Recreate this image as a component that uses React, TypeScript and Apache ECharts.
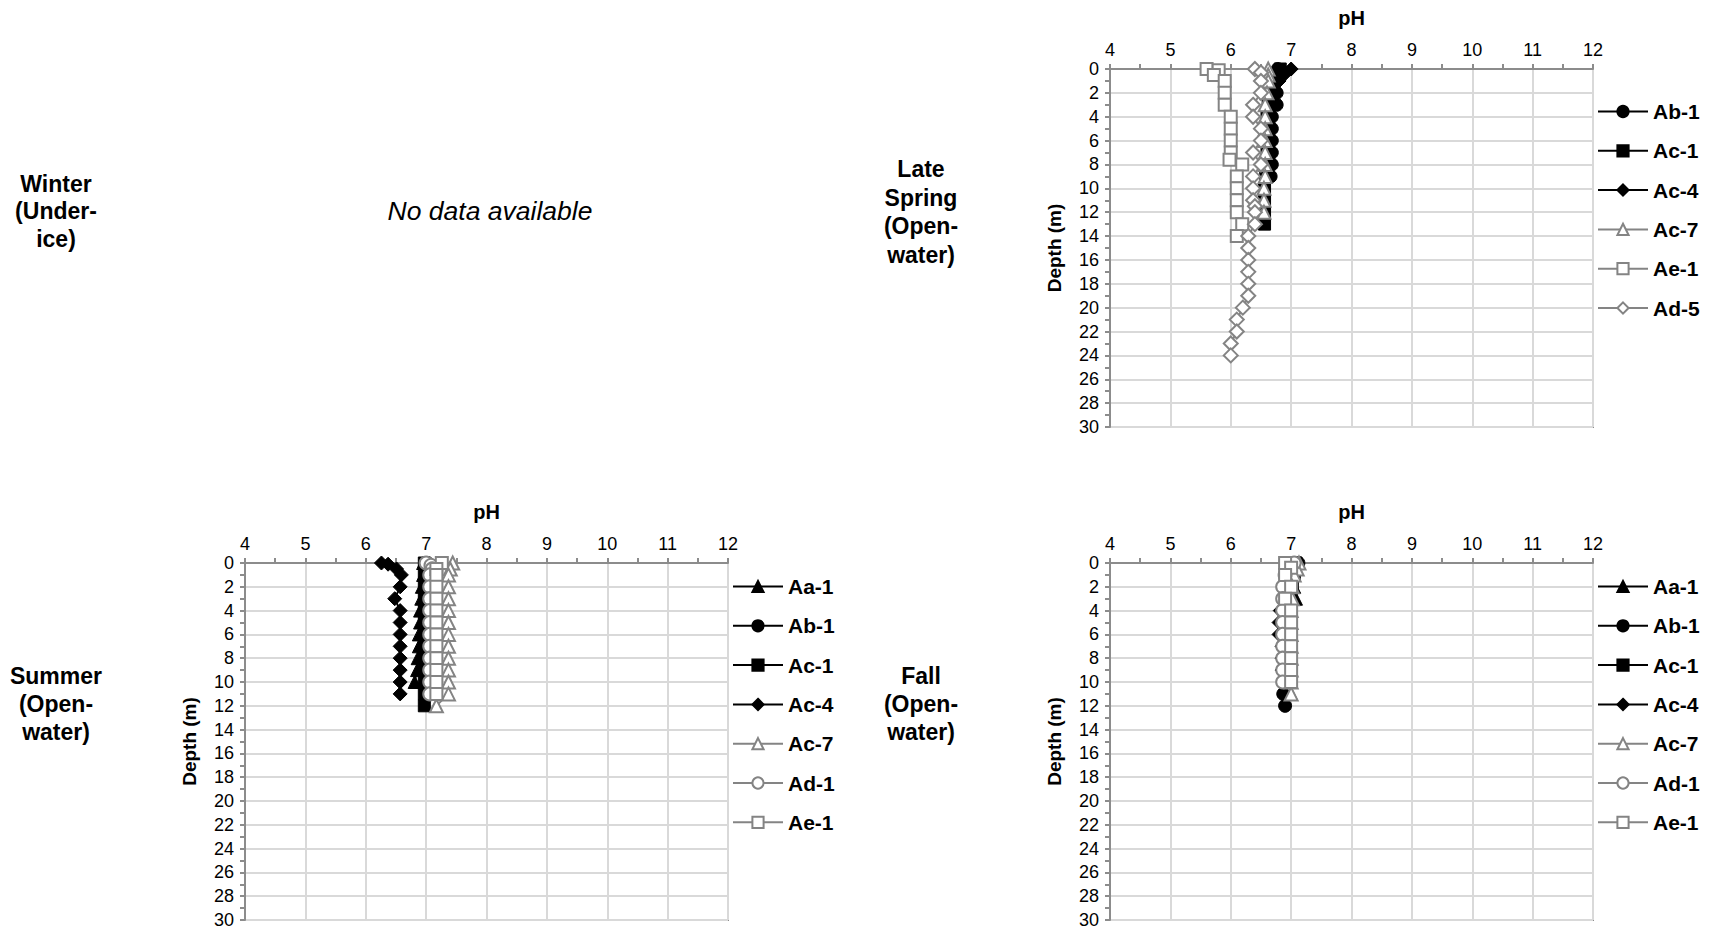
import React, { useEffect, useRef } from "react";
import * as echarts from "echarts";

// ---------- Data: [pH, depth (m)] ----------
// Late Spring (Open-water)
const lsAb1 = [[6.78, 0], [6.75, 1], [6.76, 2], [6.76, 3], [6.68, 4], [6.68, 5], [6.68, 6], [6.68, 7], [6.68, 8], [6.66, 9]];
const lsAc1 = [[6.82, 0], [6.76, 0.5], [6.72, 1], [6.65, 2], [6.62, 3], [6.6, 4], [6.6, 5], [6.6, 6], [6.6, 7], [6.6, 8], [6.58, 9], [6.56, 10], [6.56, 11], [6.56, 12], [6.56, 13]];
const lsAc4 = [[7.0, 0], [6.9, 0.4], [6.8, 1]];
const lsAc7 = [[6.62, 0], [6.62, 0.5], [6.62, 1], [6.6, 2], [6.57, 3], [6.57, 4], [6.57, 5], [6.57, 6], [6.57, 7], [6.57, 8], [6.57, 9], [6.55, 10], [6.55, 11], [6.55, 12]];
const lsAe1 = [[5.6, 0], [5.8, 0.1], [5.72, 0.5], [5.9, 1], [5.9, 2], [5.9, 3], [6.0, 4], [6.0, 5], [6.0, 6], [6.0, 7], [5.98, 7.6], [6.19, 8], [6.1, 9], [6.1, 10], [6.1, 11], [6.1, 12], [6.19, 13], [6.1, 14]];
const lsAd5 = [[6.4, 0], [6.5, 0.3], [6.5, 1], [6.5, 2], [6.37, 3], [6.37, 4], [6.5, 5], [6.5, 6], [6.37, 7], [6.5, 8], [6.37, 9], [6.37, 10], [6.37, 11], [6.4, 11.5], [6.4, 12], [6.4, 13], [6.29, 14], [6.29, 15], [6.29, 16], [6.29, 17], [6.29, 18], [6.29, 19], [6.2, 20], [6.1, 21], [6.1, 22], [6.0, 23], [6.0, 24]];

// Summer (Open-water)
const suAa1 = [[6.95, 0], [6.95, 1], [6.93, 2], [6.92, 3], [6.9, 4], [6.9, 5], [6.88, 6], [6.88, 7], [6.86, 8], [6.85, 9], [6.81, 10]];
const suAb1 = [[7.02, 0], [7.0, 1], [7.0, 2], [7.0, 3], [7.0, 4], [7.0, 5], [7.0, 6], [7.0, 7], [7.0, 8], [7.0, 9], [7.0, 10], [7.0, 11]];
const suAc1 = [[6.97, 0], [6.97, 1], [6.97, 2], [6.97, 3], [6.97, 4], [6.97, 5], [6.97, 6], [6.97, 7], [6.97, 8], [6.97, 9], [6.97, 10], [6.97, 11], [6.97, 12]];
const suAc4 = [[6.26, 0], [6.37, 0.1], [6.51, 0.5], [6.59, 1], [6.57, 2], [6.48, 3], [6.57, 4], [6.57, 5], [6.57, 6], [6.57, 7], [6.57, 8], [6.57, 9], [6.57, 10], [6.57, 11]];
const suAc7 = [[7.44, 0], [7.4, 0.5], [7.37, 1], [7.37, 2], [7.37, 3], [7.37, 4], [7.37, 5], [7.37, 6], [7.37, 7], [7.37, 8], [7.37, 9], [7.37, 10], [7.37, 11], [7.17, 12]];
const suAd1 = [[7.0, 0], [7.08, 0.2], [7.1, 0.5], [7.06, 1], [7.06, 2], [7.06, 3], [7.06, 4], [7.06, 5], [7.06, 6], [7.06, 7], [7.06, 8], [7.06, 9], [7.06, 10], [7.06, 11]];
const suAe1 = [[7.26, 0], [7.17, 0.5], [7.17, 1], [7.17, 2], [7.17, 3], [7.17, 4], [7.17, 5], [7.17, 6], [7.17, 7], [7.17, 8], [7.17, 9], [7.17, 10], [7.17, 11]];

// Fall (Open-water)
const faAa1 = [[7.1, 0], [7.05, 1], [7.05, 2], [7.08, 3], [7.0, 4], [7.0, 5], [7.0, 6], [7.0, 7], [7.0, 8], [6.98, 9], [6.98, 10], [7.0, 11]];
const faAb1 = [[7.12, 0], [7.05, 1], [6.95, 2], [6.9, 3], [6.9, 4], [6.9, 5], [6.88, 6], [6.88, 7], [6.88, 8], [6.87, 9], [6.87, 10], [6.87, 11], [6.9, 12]];
const faAc1 = [[7.08, 0], [7.05, 1], [7.02, 2], [7.0, 3], [7.0, 4], [7.0, 5], [7.0, 6], [7.0, 7], [7.0, 8], [7.0, 9], [7.0, 10]];
const faAc4 = [[7.05, 0], [6.95, 1], [6.9, 2], [6.9, 3], [6.82, 4], [6.8, 5], [6.8, 6], [6.85, 7], [6.85, 8], [6.85, 9]];
const faAc7 = [[7.13, 0], [7.1, 0.5], [7.05, 1], [7.02, 2], [7.02, 3], [7.0, 4], [7.0, 5], [7.0, 6], [7.0, 7], [7.0, 8], [7.0, 9], [7.0, 10], [7.0, 11]];
const faAd1 = [[7.05, 0], [6.9, 1], [6.86, 2], [6.86, 3], [6.86, 4], [6.86, 5], [6.86, 6], [6.86, 7], [6.86, 8], [6.86, 9], [6.86, 10]];
const faAe1 = [[6.9, 0], [7.0, 0.4], [6.9, 1], [7.0, 2], [6.9, 3], [7.0, 4], [7.0, 5], [7.0, 6], [7.0, 7], [7.0, 8], [7.0, 9], [7.0, 10]];

const lsNames = ["Ab-1", "Ac-1", "Ac-4", "Ac-7", "Ae-1", "Ad-5"];
const suNames = ["Aa-1", "Ab-1", "Ac-1", "Ac-4", "Ac-7", "Ad-1", "Ae-1"];
const faNames = ["Aa-1", "Ab-1", "Ac-1", "Ac-4", "Ac-7", "Ad-1", "Ae-1"];

const phMin = 4;
const phMax = 12;
const depthMin = 0;
const depthMax = 30;

// ---------- Styles ----------
const FONT = '"Liberation Sans", Arial, Helvetica, sans-serif';
const GRAY = "#848484";
const AXIS = "#8c8c8c";
const GRID = "#d9d9d9";

type Sty = { symbol: string; filled: boolean; size: number };
const styles: Record<string, Sty> = {
  "Aa-1": { symbol: "triangle", filled: true, size: 13 },
  "Ab-1": { symbol: "circle", filled: true, size: 13 },
  "Ac-1": { symbol: "rect", filled: true, size: 12 },
  "Ac-4": { symbol: "diamond", filled: true, size: 14 },
  "Ac-7": { symbol: "triangle", filled: false, size: 13 },
  "Ad-1": { symbol: "circle", filled: false, size: 13 },
  "Ae-1": { symbol: "rect", filled: false, size: 12 },
  "Ad-5": { symbol: "diamond", filled: false, size: 14 },
};

function makeSeries(name: string, data: number[][], idx: number) {
  const s = styles[name];
  const lineColor = s.filled ? "#000000" : GRAY;
  return {
    type: "line",
    name,
    xAxisIndex: idx,
    yAxisIndex: idx,
    data,
    symbol: s.symbol,
    symbolSize: s.size,
    showAllSymbol: true,
    color: lineColor,
    lineStyle: { color: lineColor, width: 2 },
    itemStyle: s.filled
      ? { color: "#000000", borderColor: "#000000", borderWidth: 1 }
      : { color: "#ffffff", borderColor: GRAY, borderWidth: 2 },
    emphasis: { disabled: true },
  };
}

function xAxisFor(idx: number) {
  return {
    type: "value",
    gridIndex: idx,
    position: "top",
    min: phMin,
    max: phMax,
    interval: 1,
    name: "pH",
    nameLocation: "middle",
    nameGap: 41,
    nameTextStyle: { fontFamily: FONT, fontSize: 20, fontWeight: "bold", color: "#000" },
    axisLine: { show: true, onZero: false, lineStyle: { color: AXIS, width: 2 } },
    axisTick: { show: true, inside: false, length: 5, lineStyle: { color: AXIS, width: 2 } },
    minorTick: { show: true, splitNumber: 2, length: 5, lineStyle: { color: AXIS, width: 2 } },
    axisLabel: { fontFamily: FONT, fontSize: 18, color: "#000", margin: 10 },
    splitLine: { show: true, lineStyle: { color: GRID, width: 2 } },
  };
}

function yAxisFor(idx: number) {
  return {
    type: "value",
    gridIndex: idx,
    inverse: true,
    min: depthMin,
    max: depthMax,
    interval: 2,
    name: "Depth (m)",
    nameLocation: "middle",
    nameRotate: 90,
    nameGap: 46,
    nameTextStyle: { fontFamily: FONT, fontSize: 19, fontWeight: "bold", color: "#000" },
    axisLine: { show: true, onZero: false, lineStyle: { color: AXIS, width: 2 } },
    axisTick: { show: true, inside: false, length: 5, lineStyle: { color: AXIS, width: 2 } },
    minorTick: { show: true, splitNumber: 2, length: 5, lineStyle: { color: AXIS, width: 2 } },
    axisLabel: { fontFamily: FONT, fontSize: 18, color: "#000", margin: 11 },
    splitLine: { show: true, lineStyle: { color: GRID, width: 2 } },
  };
}

function legendFor(names: string[], left: number, top: number) {
  return {
    show: true,
    orient: "vertical",
    left,
    top,
    padding: 0,
    data: names,
    itemWidth: 50,
    itemHeight: 14,
    itemGap: 18.3,
    selectedMode: false,
    textStyle: { fontFamily: FONT, fontSize: 21, fontWeight: "bold", color: "#000", lineHeight: 20 },
  };
}

function label(text: string, x: number, y: number, font: string, lineHeight: number) {
  return {
    type: "text",
    x,
    y,
    style: {
      text,
      font,
      fill: "#000",
      align: "center",
      verticalAlign: "middle",
      lineHeight,
    },
  };
}

export default function App() {
  const ref = useRef<HTMLDivElement>(null);
  useEffect(() => {
    if (!ref.current) return;
    const chart = echarts.init(ref.current, null, { renderer: "svg" });
    const gridBase = { show: true, borderColor: AXIS, borderWidth: 2, backgroundColor: "transparent", containLabel: false };
    const lsSeriesData = [lsAb1, lsAc1, lsAc4, lsAc7, lsAe1, lsAd5];
    const suSeriesData = [suAa1, suAb1, suAc1, suAc4, suAc7, suAd1, suAe1];
    const faSeriesData = [faAa1, faAb1, faAc1, faAc4, faAc7, faAd1, faAe1];
    const series: any[] = [];
    lsNames.forEach((n, i) => series.push(makeSeries(n, lsSeriesData[i], 0)));
    suNames.forEach((n, i) => series.push(makeSeries(n, suSeriesData[i], 1)));
    faNames.forEach((n, i) => series.push(makeSeries(n, faSeriesData[i], 2)));

    const boldFont = `bold 23px ${FONT}`;
    chart.setOption({
      animation: false,
      backgroundColor: "#ffffff",
      textStyle: { fontFamily: FONT },
      grid: [
        { ...gridBase, left: 1110, top: 69, width: 483, height: 358 },
        { ...gridBase, left: 245, top: 563, width: 483, height: 357 },
        { ...gridBase, left: 1110, top: 563, width: 483, height: 357 },
      ],
      xAxis: [xAxisFor(0), xAxisFor(1), xAxisFor(2)],
      yAxis: [yAxisFor(0), yAxisFor(1), yAxisFor(2)],
      legend: [
        legendFor(lsNames, 1597, 101),
        legendFor(suNames, 732, 576),
        legendFor(faNames, 1597, 576),
      ],
      series,
      graphic: [
        label("Winter\n(Under-\nice)", 56, 211, boldFont, 27.5),
        label("No data available", 490, 211, `italic 26.5px ${FONT}`, 28),
        label("Late\nSpring\n(Open-\nwater)", 921, 212, boldFont, 28.4),
        label("Summer\n(Open-\nwater)", 56, 704, boldFont, 28),
        label("Fall\n(Open-\nwater)", 921, 704, boldFont, 28),
      ],
    });
    return () => chart.dispose();
  }, []);
  return (
    <div
      ref={ref}
      style={{ position: "absolute", left: 0, top: 0, width: 1713, height: 929, background: "#fff" }}
    />
  );
}
